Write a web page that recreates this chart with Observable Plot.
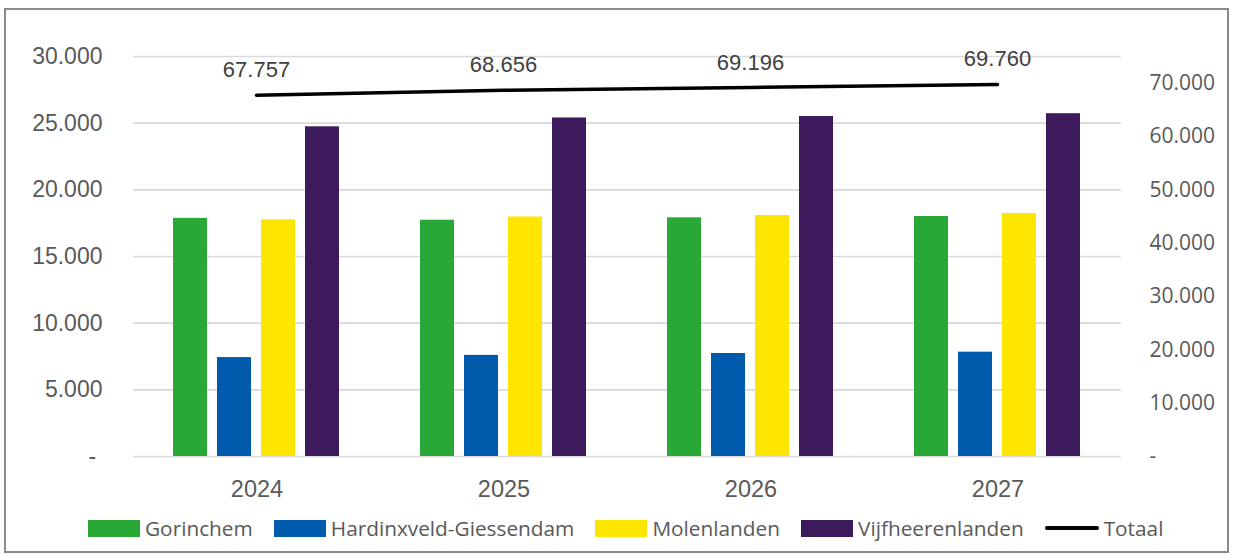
<!DOCTYPE html>
<html>
<head>
<meta charset="utf-8">
<script src="https://cdn.jsdelivr.net/npm/d3@7"></script>
<script src="https://cdn.jsdelivr.net/npm/@observablehq/plot@0.6"></script>
<style>
  body { margin: 0; background: #fff; width: 1233px; height: 555px; overflow: hidden; position: relative; }
  #frame { position: absolute; left: 4px; top: 8px; width: 1225px; height: 545px; border: 2px solid #8a8a8a; box-sizing: border-box; }
  .layer { position: absolute; left: 0; top: 0; }
  #legend { position: absolute; left: 88px; top: 514px; display: flex; align-items: center; gap: 21px;
            font-family: "Open Sans", sans-serif; font-size: 20.8px; color: #595959; }
  .item { display: flex; align-items: center; gap: 5px; white-space: nowrap; }
  .sw { width: 52px; height: 17px; }
  .ln { width: 54px; height: 4px; background: #000; border-radius: 2px; }
</style>
</head>
<body>
<div id="frame"></div>
<div id="bars" class="layer"></div>
<div id="line" class="layer"></div>
<div id="legend"></div>
<script>
const years = ["2024", "2025", "2026", "2027"];
const seriesNames = ["Gorinchem", "Hardinxveld-Giessendam", "Molenlanden", "Vijfheerenlanden"];
const gorinchem = [17860, 17720, 17900, 18000];
const hardinxveld = [7420, 7585, 7725, 7825];
const molenlanden = [17750, 17960, 18075, 18225];
const vijfheerenlanden = [24727, 25391, 25496, 25710];
const totaal = [67757, 68656, 69196, 69760];
const leftTicks = [0, 5000, 10000, 15000, 20000, 25000, 30000];
const rightTicks = [0, 10000, 20000, 30000, 40000, 50000, 60000, 70000];
const colors = ["#29a838", "#005bac", "#ffe600", "#3c1a5b"];

const seriesValues = [gorinchem, hardinxveld, molenlanden, vijfheerenlanden];
const rows = years.flatMap((y, i) => seriesNames.map((s, j) => ({year: y, series: s, value: seriesValues[j][i]})));
const totalRows = years.map((y, i) => ({year: y, value: totaal[i]}));

const nl = d3.formatLocale({decimal: ",", thousands: ".", grouping: [3], currency: ["€", ""]});
const fmt = nl.format(",");
const tickFmt = d => d === 0 ? "- " : fmt(d);

const W = 1233, H = 512, ML = 132, MR = 112, MT = 56, MB = 56;

const bars = Plot.plot({
  width: W, height: H, marginLeft: ML, marginRight: MR, marginTop: MT, marginBottom: MB,
  style: {background: "transparent", color: "#595959", fontFamily: "'Liberation Sans', Arial, sans-serif", overflow: "visible"},
  fx: {domain: years, padding: 0, label: null},
  x: {domain: seriesNames, axis: null, paddingInner: 0.222, paddingOuter: 0.856},
  y: {domain: [0, 30000]},
  color: {domain: seriesNames, range: colors},
  marks: [
    Plot.ruleY(leftTicks, {stroke: "#d9d9d9", strokeWidth: 1.6}),
    Plot.barY(rows, {fx: "year", x: "series", y: "value", fill: "series"}),
    Plot.axisY({ticks: leftTicks, tickSize: 0, tickPadding: 31, fontSize: 23, tickFormat: tickFmt, label: null}),
    Plot.axisFx({anchor: "bottom", tickSize: 0, tickPadding: 24, fontSize: 23.5, label: null})
  ]
});
document.getElementById("bars").append(bars);

const line = Plot.plot({
  width: W, height: H, marginLeft: ML, marginRight: MR, marginTop: MT, marginBottom: MB,
  style: {background: "transparent", color: "#595959", fontFamily: "'Liberation Sans', Arial, sans-serif", overflow: "visible"},
  x: {type: "point", domain: years, padding: 0.5, axis: null},
  y: {domain: [0, 75000]},
  marks: [
    Plot.lineY(totalRows, {x: "year", y: "value", stroke: "#000", strokeWidth: 3.5, strokeLinecap: "round"}),
    Plot.text(totalRows, {x: "year", y: "value", text: d => fmt(d.value), dy: -25, fontSize: 22, fill: "#404040"}),
    Plot.axisY({anchor: "right", ticks: rightTicks, tickSize: 0, tickPadding: 28, textAnchor: "start",
                fontSize: 21, fontFamily: "'Open Sans', sans-serif", tickFormat: tickFmt, label: null})
  ]
});
document.getElementById("line").append(line);

const legend = document.getElementById("legend");
seriesNames.forEach((s, i) => {
  const it = document.createElement("div"); it.className = "item";
  const sw = document.createElement("div"); sw.className = "sw"; sw.style.background = colors[i];
  const t = document.createElement("span"); t.textContent = s;
  it.append(sw, t); legend.append(it);
});
{
  const it = document.createElement("div"); it.className = "item";
  const sw = document.createElement("div"); sw.className = "ln";
  const t = document.createElement("span"); t.textContent = "Totaal";
  it.append(sw, t); legend.append(it);
}
</script>
</body>
</html>
